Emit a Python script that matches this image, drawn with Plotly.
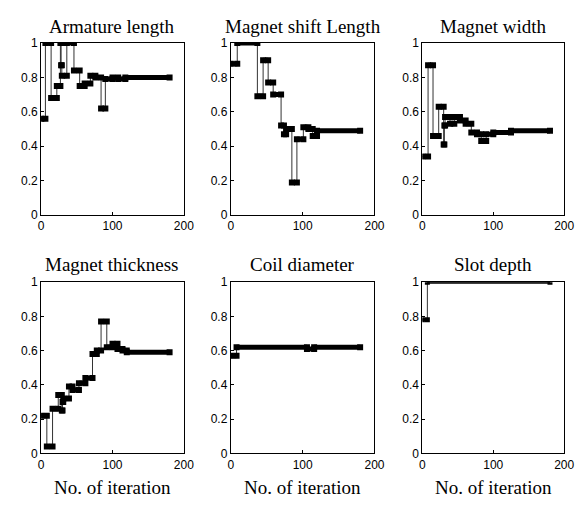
import plotly.graph_objects as go

# ---------------- data ----------------
panel_titles = ["Armature length", "Magnet shift Length", "Magnet width",
                "Magnet thickness", "Coil diameter", "Slot depth"]
x_label = "No. of iteration"
x_tickvals = [0, 100, 200]
x_ticktext = ["0", "100", "200"]
y_tickvals = [0, 0.2, 0.4, 0.6, 0.8, 1.0]
y_ticktext = ["0", "0.2", "0.4", "0.6", "0.8", "1"]
last_iter = 180

# iteration where a new value starts, and that value
arm_iter = [0, 6, 14, 22, 27, 28, 29, 36, 46, 54, 61, 69, 76, 84, 90, 100, 108, 118]
arm_val = [0.56, 1.0, 0.68, 0.75, 1.0, 0.87, 0.81, 1.0, 0.84, 0.75, 0.765, 0.81, 0.80, 0.62, 0.79, 0.80, 0.79, 0.80]

shift_iter = [0, 9, 37, 45, 52, 59, 70, 74, 77, 85, 92, 101, 108, 114, 120]
shift_val = [0.88, 1.0, 0.69, 0.90, 0.77, 0.70, 0.52, 0.47, 0.50, 0.19, 0.44, 0.51, 0.50, 0.46, 0.49]

width_iter = [0, 8, 15, 23, 30, 31, 32, 39, 45, 53, 61, 69, 77, 83, 90, 100, 125]
width_val = [0.34, 0.87, 0.46, 0.63, 0.41, 0.52, 0.57, 0.53, 0.57, 0.55, 0.53, 0.48, 0.47, 0.43, 0.47, 0.48, 0.49]

thick_iter = [0, 8, 16, 24, 29, 30, 31, 39, 44, 53, 62, 72, 78, 84, 92, 100, 107, 114, 120]
thick_val = [0.22, 0.04, 0.26, 0.34, 0.25, 0.30, 0.32, 0.39, 0.37, 0.41, 0.44, 0.58, 0.60, 0.77, 0.62, 0.64, 0.61, 0.60, 0.59]

coil_iter = [0, 8, 106, 116]
coil_val = [0.57, 0.62, 0.61, 0.62]

slot_iter = [0, 7]
slot_val = [0.78, 1.0]

series = [(arm_iter, arm_val), (shift_iter, shift_val), (width_iter, width_val),
          (thick_iter, thick_val), (coil_iter, coil_val), (slot_iter, slot_val)]

# ---------------- layout geometry ----------------
W, H = 581, 506
col_px = [(39, 185), (233, 380), (429, 574)]
row_px = [(37, 214), (283, 459)]
title_y_px = [20, 265]
xlabel_y_px = 494

fig = go.Figure()
annotations = []
for k, (its, vals) in enumerate(series):
    r, c = divmod(k, 3)
    xa = "x" if k == 0 else f"x{k+1}"
    ya = "y" if k == 0 else f"y{k+1}"
    # thin connecting step line
    sx = list(its) + [last_iter]
    sy = list(vals) + [vals[-1]]
    fig.add_trace(go.Scatter(x=sx, y=sy, mode="lines", line_shape="hv",
                             line=dict(color="#333333", width=1),
                             xaxis=xa, yaxis=ya, showlegend=False, hoverinfo="skip"))
    # thick level bars
    bx, by = [], []
    for i, v in enumerate(vals):
        x0 = its[i]
        x1 = its[i + 1] if i + 1 < len(its) else last_iter
        bx += [x0, x1, None]
        by += [v, v, None]
    bw = 3 if k == 5 else 5
    ms = 5 if k == 5 else 6
    fig.add_trace(go.Scatter(x=bx, y=by, mode="lines+markers",
                             line=dict(color="black", width=bw),
                             marker=dict(color="black", size=ms, symbol="square"),
                             xaxis=xa, yaxis=ya, showlegend=False, hoverinfo="skip"))

    x0p, x1p = col_px[c]
    y0p, y1p = row_px[r]
    axis_common = dict(showgrid=False, zeroline=False, showline=True, mirror=True,
                       linecolor="black", linewidth=1, ticks="inside", ticklen=3,
                       tickcolor="black",
                       tickfont=dict(family="Liberation Sans, Arial", size=12, color="black"))
    fig.layout[("xaxis" if k == 0 else f"xaxis{k+1}")] = dict(
        domain=[x0p / W, x1p / W], anchor=ya, range=[0, 200],
        tickvals=x_tickvals, ticktext=x_ticktext, **axis_common)
    fig.layout[("yaxis" if k == 0 else f"yaxis{k+1}")] = dict(
        domain=[1 - y1p / H, 1 - y0p / H], anchor=xa, range=[0, 1],
        tickvals=y_tickvals, ticktext=y_ticktext, **axis_common)

    annotations.append(dict(text=panel_titles[k], x=(x0p + x1p) / 2 / W,
                            y=1 - title_y_px[r] / H, xref="paper", yref="paper",
                            xanchor="center", yanchor="middle", showarrow=False,
                            font=dict(family="Liberation Serif, Times New Roman", size=19, color="black")))
    if r == 1:
        annotations.append(dict(text=x_label, x=(x0p + x1p) / 2 / W,
                                y=1 - xlabel_y_px / H, xref="paper", yref="paper",
                                xanchor="center", yanchor="middle", showarrow=False,
                                font=dict(family="Liberation Serif, Times New Roman", size=19, color="black")))

fig.update_layout(width=W, height=H, margin=dict(l=0, r=0, t=0, b=0),
                  paper_bgcolor="white", plot_bgcolor="white",
                  annotations=annotations)

fig.write_html("out.html")
